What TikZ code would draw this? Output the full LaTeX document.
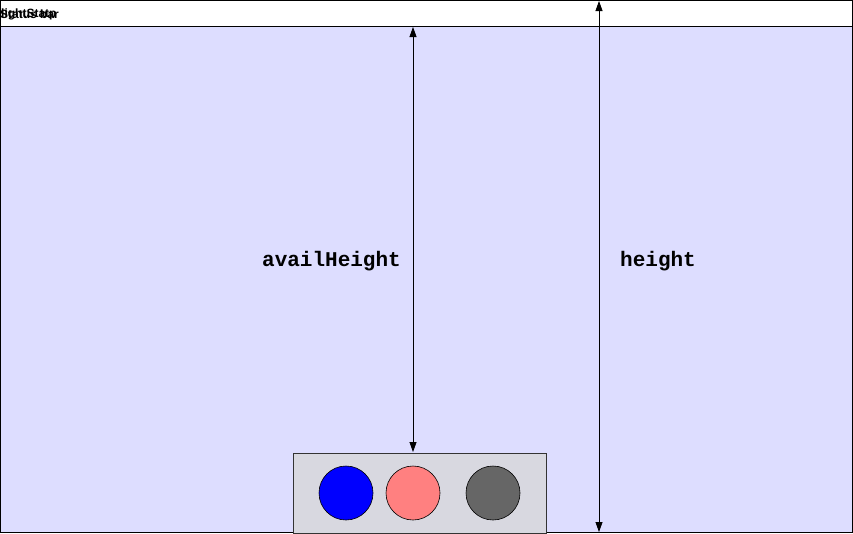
\documentclass[tikz,border=0pt]{standalone}
\usepackage{fontspec}
\newfontfamily\monofont{Liberation Mono}
\newfontfamily\sansfont{Liberation Sans}
\usetikzlibrary{arrows.meta}
\definecolor{screenblue}{HTML}{DDDDFF}
\definecolor{barfill}{HTML}{D8D8E0}
\definecolor{pinkc}{HTML}{FF8080}
\definecolor{grayc}{HTML}{666666}
\tikzset{
  x=1pt,y=-1pt,
  dim/.style={{Triangle[length=10pt,width=7pt]}-{Triangle[length=10pt,width=7pt]}, line width=0.8pt},
  lbl/.style={font=\monofont\bfseries\fontsize{21}{24}\selectfont, inner sep=0pt},
  btn/.style={circle, draw=black, line width=0.6pt, minimum size=54pt, inner sep=0pt},
  sbtxt/.style={font=\sansfont\bfseries\fontsize{12}{13}\selectfont, anchor=west, inner sep=0pt},
}
\begin{document}
\begin{tikzpicture}
\useasboundingbox (0,0) rectangle (853,533);
\fill[white] (0,0) rectangle (853,533);
\fill[screenblue] (0,26) rectangle (853,533);
\draw[line width=1pt] (0.5,0.5) rectangle (852.5,532.5);
\draw[line width=1pt] (0,26) -- (853,26);
\node[sbtxt] (st1) at (0,14) {Status bar};
\node[sbtxt] (st2) at (1,14) {lightStatp};
\node[draw=black!80, line width=0.8pt, fill=barfill, minimum width=253pt, minimum height=80pt, inner sep=0pt, anchor=north west] (bar) at (293,453) {};
\node[btn, fill=blue] (b1) at (346,493) {};
\node[btn, fill=pinkc] (b2) at (413,493) {};
\node[btn, fill=grayc] (b3) at (493,493) {};
\coordinate (aTop) at (413,27);
\coordinate (aBot) at (413,452);
\coordinate (hTop) at (599,1);
\coordinate (hBot) at (599,532);
\draw[dim] (aTop) -- (aBot);
\draw[dim] (hTop) -- (hBot);
\node[lbl, anchor=east] (al) at (401,261) {availHeight};
\node[lbl, anchor=west] (hl) at (620,261) {height};
\end{tikzpicture}
\end{document}
